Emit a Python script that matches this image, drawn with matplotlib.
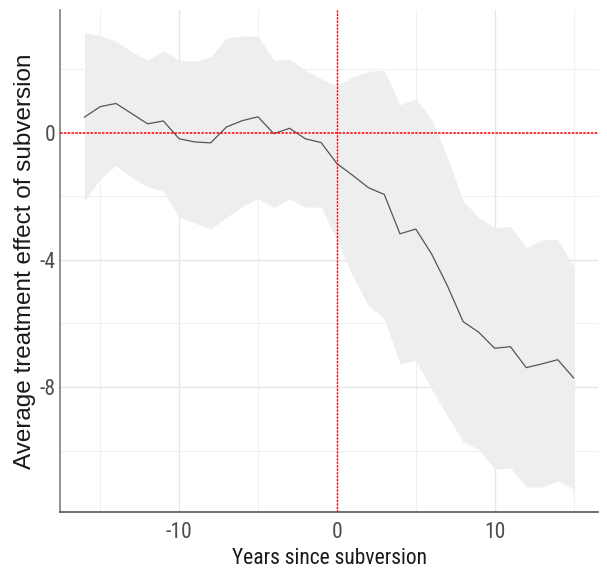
import matplotlib
matplotlib.use("Agg")
import matplotlib.pyplot as plt
from matplotlib import font_manager

years = list(range(-16, 16))
effect = [0.49, 0.82, 0.92, 0.60, 0.28, 0.37, -0.19, -0.29, -0.32, 0.18, 0.38, 0.50,
          -0.03, 0.14, -0.19, -0.31, -0.97, -1.34, -1.73, -1.94, -3.18, -3.03, -3.81,
          -4.81, -5.94, -6.28, -6.78, -6.73, -7.39, -7.27, -7.14, -7.71]
upper = [3.14, 3.05, 2.88, 2.54, 2.28, 2.57, 2.28, 2.25, 2.38, 2.98, 3.05, 3.03,
         2.28, 2.32, 1.96, 1.70, 1.48, 1.75, 1.93, 1.96, 0.88, 1.07, 0.42,
         -0.77, -2.15, -2.66, -2.99, -2.95, -3.62, -3.37, -3.36, -4.21]
lower = [-2.15, -1.45, -1.03, -1.40, -1.71, -1.84, -2.66, -2.84, -3.03, -2.66, -2.32, -2.07,
         -2.35, -2.08, -2.34, -2.34, -3.38, -4.50, -5.44, -5.84, -7.27, -7.17, -8.06,
         -8.90, -9.72, -9.97, -10.58, -10.54, -11.14, -11.15, -10.95, -11.21]
x_major = [-10, 0, 10]
x_minor = [-15, -5, 5, 15]
y_major = [0, -4, -8]
y_minor = [2, -2, -6, -10]

names = sorted({f.name for f in font_manager.fontManager.ttflist})
cond = None
for pref in ['Liberation Sans Narrow', 'Roboto Condensed', 'Open Sans Condensed',
             'DejaVu Sans Condensed', 'Noto Sans Condensed']:
    if pref in names:
        cond = pref
        break
if cond is None:
    for n in names:
        if 'Narrow' in n or 'Condensed' in n:
            cond = n
            break
tick_family = [cond, 'Liberation Sans', 'DejaVu Sans'] if cond else ['Liberation Sans', 'DejaVu Sans']
tick_size = 15.5 if cond else 14.5
xlab_size = 15.5 if cond else 13

fig = plt.figure(figsize=(6.07, 5.72), dpi=100)
ax = fig.add_axes([60/607, 1-512/572, 538/607, 502/572])

ax.fill_between(years, lower, upper, color='#EEEEEE', linewidth=0, zorder=2)
ax.plot(years, effect, color='#555555', linewidth=0.9, zorder=3)
ax.axhline(0, color='#FF0000', linestyle=(0, (1.6, 0.9)), linewidth=1.1, zorder=4)
ax.axvline(0, color='#FF0000', linestyle=(0, (1.6, 0.9)), linewidth=1.0, zorder=4)

ax.set_xlim(-17.55, 16.55)
ax.set_ylim(-11.93, 3.86)
ax.set_xticks(x_major)
ax.set_xticklabels([str(v) for v in x_major])
ax.set_xticks(x_minor, minor=True)
ax.set_yticks(y_major)
ax.set_yticklabels([str(v) for v in y_major])
ax.set_yticks(y_minor, minor=True)

ax.grid(which='major', color='#E6E6E6', linewidth=1.0, zorder=0)
ax.grid(which='minor', color='#F0F0F0', linewidth=0.8, zorder=0)
ax.set_axisbelow(True)

ax.tick_params(which='both', length=0)
ax.tick_params(axis='x', pad=7)
ax.tick_params(axis='y', pad=3.5)
for lab in ax.get_xticklabels() + ax.get_yticklabels():
    lab.set_family(tick_family)
    lab.set_fontsize(tick_size)
    lab.set_color('#4D4D4D')

for s in ['top', 'right']:
    ax.spines[s].set_visible(False)
ax.spines['left'].set_color('#7F7F7F')
ax.spines['left'].set_linewidth(1.2)
ax.spines['bottom'].set_color('#555555')
ax.spines['bottom'].set_linewidth(1.2)

ax.set_xlabel('Years since subversion', fontsize=xlab_size, family=tick_family,
              color='#1A1A1A', labelpad=4)
ax.set_ylabel('Average treatment effect of subversion', fontsize=17.5,
              family=['Liberation Sans', 'DejaVu Sans'], color='#1A1A1A', labelpad=2)

fig.savefig('out.png', dpi=100, facecolor='white')
